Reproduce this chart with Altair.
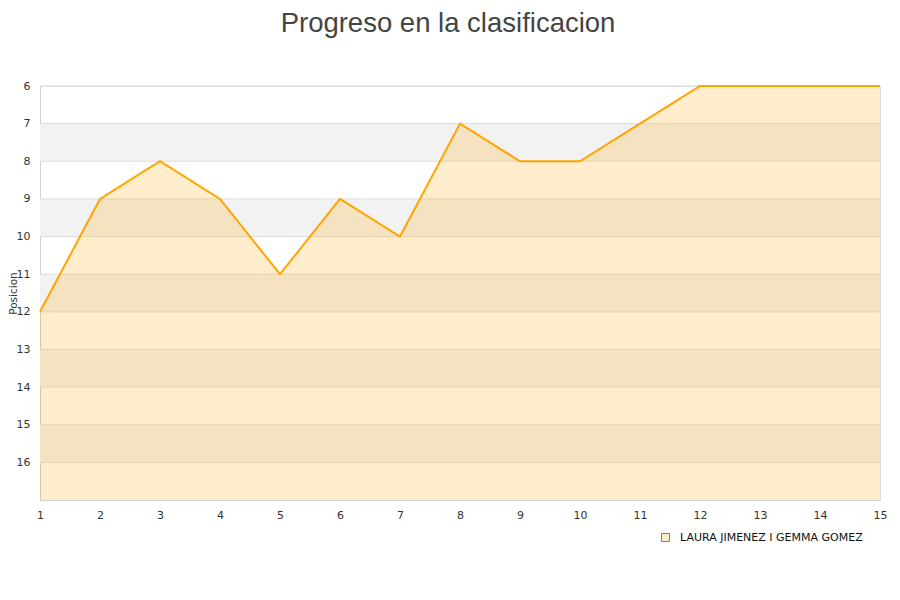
import altair as alt
import pandas as pd

jornadas = list(range(1, 16))
posiciones = [12, 9, 8, 9, 11, 9, 10, 7, 8, 8, 7, 6, 6, 6, 6]
serie = "LAURA JIMENEZ I GEMMA GOMEZ"
band_starts = [7, 9, 11, 13, 15]
grid_vals = list(range(6, 17))
y_ticks = list(range(6, 17))

df = pd.DataFrame({"jornada": jornadas, "pos": posiciones, "serie": [serie] * len(jornadas)})
bands = pd.DataFrame({"y0": band_starts, "y1": [b + 1 for b in band_starts]})
grid = pd.DataFrame({"g": grid_vals})
legend_df = pd.DataFrame({"jornada": [jornadas[0]], "pos": [posiciones[0]], "serie": [serie]})

yscale = alt.Scale(domain=[6, 17], reverse=True, nice=False, zero=False)
xscale = alt.Scale(domain=[1, 15], nice=False, zero=False)

band_layer = alt.Chart(bands).mark_rect(color="#f2f2f2").encode(
    y=alt.Y("y0:Q", scale=yscale,
            axis=alt.Axis(values=y_ticks, title="Posicion", grid=False, ticks=False,
                          labelPadding=10, labelFontSize=11, labelColor="#333",
                          labelFont="DejaVu Sans", titleFont="DejaVu Sans",
                          titleFontSize=10.5, titleFontWeight="normal", titleColor="#333",
                          titleX=-32, titleY=207, titleAngle=270, titleBaseline="top",
                          titleAlign="center", domainColor="#d0d0d0")),
    y2="y1:Q",
)

grid_layer = alt.Chart(grid).mark_rule(color="#dddddd", strokeWidth=1).encode(
    y=alt.Y("g:Q", scale=yscale)
)

area_layer = alt.Chart(df).mark_area(opacity=0.2, color="#FFA500", line=False).encode(
    x=alt.X("jornada:Q", scale=xscale,
            axis=alt.Axis(values=jornadas, title=None, grid=False, ticks=False,
                          labelPadding=9, labelFontSize=11, labelColor="#333",
                          labelFlush=False,
                          labelFont="DejaVu Sans", domainColor="#d0d0d0", format="d")),
    y=alt.Y("pos:Q", scale=yscale),
    y2=alt.datum(17),
)

line_layer = alt.Chart(df).mark_line(color="#FFA500", strokeWidth=2).encode(
    x=alt.X("jornada:Q", scale=xscale),
    y=alt.Y("pos:Q", scale=yscale),
)

legend_layer = alt.Chart(legend_df).mark_square(size=0, opacity=1).encode(
    x=alt.X("jornada:Q", scale=xscale),
    y=alt.Y("pos:Q", scale=yscale),
    fill=alt.Fill("serie:N", scale=alt.Scale(range=["#FFEBC8"]),
                  legend=alt.Legend(title=None, orient="none", legendX=620, legendY=446,
                                    symbolType="square", symbolSize=64,
                                    symbolStrokeColor="#8a7f6a", symbolStrokeWidth=1,
                                    symbolOpacity=1, labelOffset=9,
                                    labelFont="DejaVu Sans", labelFontSize=11,
                                    labelColor="#111", labelLimit=400)),
)

chart = alt.layer(band_layer, grid_layer, area_layer, line_layer, legend_layer).properties(
    width=840,
    height=414,
    title=alt.TitleParams("Progreso en la clasificacion", fontSize=27.5, font="Liberation Sans",
                          fontWeight="normal", color="#444", anchor="middle", offset=43, dx=-12),
    autosize=alt.AutoSizeParams(type="none"),
    padding={"left": 32, "top": 78, "right": 12, "bottom": 50},
).configure_view(stroke="#dddddd", strokeWidth=1)

chart.save("out.html", embed_options={"renderer": "svg", "actions": False})
